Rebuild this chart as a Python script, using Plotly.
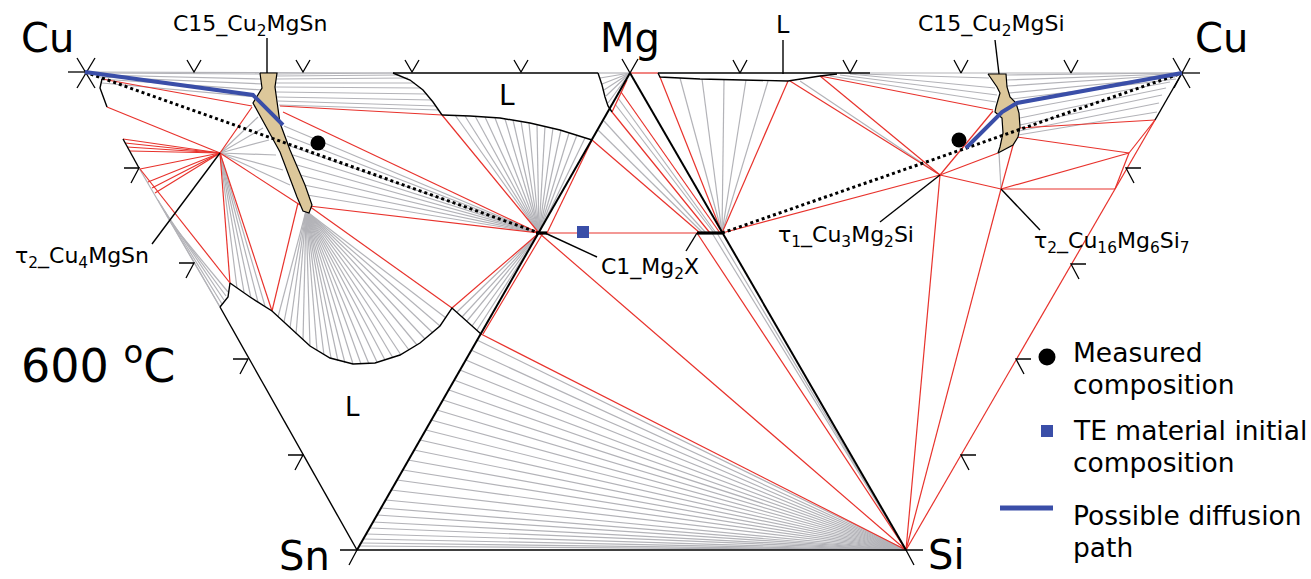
import plotly.graph_objects as go

# ---------------- diagram coordinates (x to the right, y downwards) ----------------
CU_L = (85, 72)
MG = (630, 73)
SN = (357, 550)
SI = (906, 550)
CU_R = (1182, 73)

MG2SN = (539, 233)
MG2SI = (722, 233)
TAU2_SN = (220, 153)
TAU1_SI = (940, 175)
TAU2_SI = (1001, 189)

# C15 single-phase regions (tan)
c15_sn_x = [260, 277, 275, 280, 290, 305, 312, 309, 303, 297, 280, 265, 253, 262, 260]
c15_sn_y = [73, 73, 87, 123, 150, 185, 205, 213, 211, 197, 152, 125, 103, 88, 73]
c15_si_x = [988, 1006, 1007, 1010, 1016, 1019, 1020, 1018, 1013, 998, 1000, 1003, 1002, 995, 996, 1000, 997, 988]
c15_si_y = [74, 74, 87, 97, 103, 113, 127, 137, 145, 153, 147, 133, 118, 112, 107, 93, 87, 74]

# black phase boundaries / edges (polylines)
black_lines = [
    [(393, 73), (598, 73)],
    [(393, 73), (410, 80), (423, 90), (433, 102), (442, 115)],
    [(442, 115), (470, 116), (500, 118), (530, 123), (560, 130), (592, 140)],
    [(598, 73), (602, 85), (605, 97), (608, 106), (612, 112)],
    [(220, 307), SN],
    [(230, 283), (228, 297), (220, 307)],
    [(230, 283), (250, 297), (272, 311), (290, 328), (310, 346), (330, 358), (353, 364),
     (375, 363), (400, 355), (420, 343), (440, 326), (452, 308), (481, 334)],
    [(102, 79), (100, 88), (107, 107)],
    [(123, 139), (139, 168)],
    [(658, 73), (870, 73)],
    [(658, 73), (660, 77), (700, 79), (740, 80), (788, 81), (820, 76), (837, 74)],
    [(1155, 120), (1182, 73)],
    [SN, SI],
    # leader lines
    [(267, 38), (267, 73)],
    [(995, 40), (999, 74)],
    [(783, 40), (783, 74)],
    [(152, 244), TAU2_SN],
    [(545, 233), (597, 257)],
    [(697, 233), (686, 251)],
    [(880, 222), TAU1_SI],
    [TAU2_SI, (1040, 230)],
]
thick_edges = [[SN, MG], [MG, SI]]
mg2x_solubility = [[(536, 233), (547, 233)], [(697, 233), MG2SI]]

# axis ticks (20 at.% marks) and vertex marks
ticks = [
    [(187, 60), (194, 72), (201, 60)], [(296, 60), (303, 72), (310, 60)],
    [(405, 60), (412, 72), (419, 60)], [(514, 60), (521, 72), (528, 60)],
    [(733, 60), (740, 73), (747, 60)], [(843, 60), (850, 73), (857, 60)],
    [(954, 60), (961, 73), (968, 60)], [(1064, 60), (1071, 73), (1078, 60)],
    [(124, 168), (139, 168), (131, 183)], [(179, 263), (194, 263), (186, 278)],
    [(233, 359), (248, 359), (240, 374)], [(288, 455), (303, 455), (295, 470)],
    [(1141, 168), (1126, 168), (1134, 183)], [(1086, 264), (1071, 264), (1079, 279)],
    [(1031, 359), (1016, 359), (1024, 374)], [(976, 455), (961, 455), (969, 470)],
    [(340, 550), (357, 550), (349, 565)], [(923, 550), (906, 550), (914, 565)],
    [(622, 59), (630, 73), (638, 59)],
    [(68, 72), (85, 72)], [(77, 58), (95, 88)], [(95, 58), (77, 88)],
    [(1182, 73), (1200, 73)], [(1173, 58), (1190, 88)], [(1190, 58), (1174, 88)],
]

# grey tie-lines (two-phase regions)
grey_lines = [
    [(85, 72), (393, 73)], [(598, 73), MG], [(870, 73), CU_R], [(139, 168), (220, 307)],
    [(95, 73), (260, 74)], [(97, 75), (262, 79)], [(99, 77), (264, 84)], [(101, 79), (262, 90)],
    [(102, 83), (257, 97)],
    [(277, 74), (393, 73)], [(277, 76), (400, 75)], [(276, 79), (408, 78)], [(275, 83), (415, 83)],
    [(275, 87), (421, 88)], [(276, 92), (427, 94)], [(277, 97), (432, 100)], [(278, 101), (436, 106)],
    [(279, 105), (439, 110)],
    [(158, 200), (220, 307)], [(161, 205), (222, 304)], [(164, 210), (224, 300)],
    [(167, 216), (226, 296)], [(171, 223), (228, 292)],
    [(712, 233), SI], [(717, 233), SI],
    [(598, 130), (703, 233)], [(604, 121), (706, 233)], [(615, 104), (714, 233)], [(618, 98), (716, 233)],
    [(860, 74), (989, 78)], [(850, 74), (995, 88)], [(840, 75), (997, 95)], [(830, 76), (996, 102)],
    [(800, 81), TAU1_SI],
    [(1006, 75), (1172, 73)], [(1006, 80), (1172, 74)], [(1007, 86), (1174, 75)], [(1009, 93), (1175, 77)],
    [(1012, 99), (1176, 79)], [(1018, 110), (1170, 82)], [(1020, 118), (1166, 88)],
    [(1020, 125), (1162, 95)], [(1019, 131), (1159, 103)], [(1018, 135), (1157, 112)],
    [(999, 153), TAU2_SI],
]
# fans of tie-lines: (common end, list of other ends)
grey_fans = [
    (MG2SN, [(284, 126), (287, 136), (290, 146), (293, 155), (297, 165), (300, 175), (304, 185), (307, 195)]),
    (MG2SN, [(455, 115), (465, 116), (475, 116), (485, 117), (495, 118), (505, 119), (513, 120), (521, 121),
             (529, 123), (537, 124), (545, 126), (553, 128), (561, 130), (569, 133), (577, 135), (585, 138)]),
    (MG2SN, [(457, 312), (462, 317), (467, 321), (472, 326), (477, 330)]),
    ((306, 211), [(278, 317), (284, 322), (290, 328), (296, 334), (303, 340), (310, 346), (317, 350), (324, 355),
                  (331, 358), (338, 361), (345, 363), (353, 364), (361, 364), (369, 364), (377, 362), (385, 360),
                  (393, 358), (401, 355), (409, 350), (417, 345), (425, 339), (433, 333), (440, 326), (446, 318)]),
    (TAU2_SN, [(237, 288), (244, 292), (251, 298), (258, 302), (265, 306)]),
    (TAU2_SN, [(258, 117), (263, 128), (269, 140), (276, 155), (283, 170), (290, 185)]),
    (MG, [(600, 78), (602, 84), (604, 90), (606, 96), (608, 103)]),
    (SI, [(477, 340), (471, 350), (466, 360), (460, 370), (454, 380), (449, 390), (443, 400), (437, 410),
          (431, 420), (426, 430), (420, 440), (414, 450), (408, 460), (403, 470), (397, 480), (391, 490),
          (386, 500), (381, 508), (377, 515), (373, 522), (370, 528), (366, 534), (363, 539), (361, 543),
          (359, 546)]),
    (MG2SI, [(680, 78), (702, 79), (724, 80), (746, 80), (768, 81)]),
]

# red lines (three-phase triangles)
red_lines = [
    [(102, 79), (252, 106)], [(107, 107), TAU2_SN], [TAU2_SN, (252, 107)], [TAU2_SN, (300, 205)],
    [(140, 169), (230, 283)], [TAU2_SN, (230, 283)], [TAU2_SN, (272, 311)], [(298, 203), (272, 311)],
    [(280, 106), (442, 115)], [(283, 112), MG2SN], [(442, 115), MG2SN], [(309, 206), MG2SN],
    [(309, 206), (452, 308)], [MG2SN, (452, 308)], [(483, 334), (543, 233)],
    [(481, 334), SI], [MG2SN, SI], [(697, 233), SI], [MG2SN, (697, 233)],
    [(592, 140), (547, 233)], [(592, 140), (700, 233)], [(612, 112), (710, 233)], [(621, 92), (720, 233)],
    [(627, 80), (612, 112)],
    [MG, (658, 73)], [(660, 77), MG2SI], [(788, 81), MG2SI], [(790, 81), TAU1_SI], [(820, 76), TAU1_SI],
    [(820, 76), (993, 110)], [MG2SI, TAU1_SI], [TAU1_SI, (998, 153)], [TAU1_SI, TAU2_SI],
    [TAU1_SI, (993, 111)], [TAU1_SI, SI], [TAU2_SI, SI], [TAU2_SI, (1115, 189)], [TAU2_SI, (1129, 153)],
    [TAU2_SI, (1015, 138)], [(1017, 137), (1129, 153)], [(1019, 128), (1155, 120)],
    [(1129, 153), (1155, 120)], [(1129, 153), (1115, 189)], [(1155, 120), SI],
]
red_fan_tau2 = [(123, 139), (125, 143), (127, 147), (130, 151), (140, 169), (148, 182), (152, 188), (155, 193)]

# experimental data
diffusion_path_sn = [CU_L, (253, 95), (283, 125)]
diffusion_path_si = [CU_R, (1017, 103), (1002, 112), (966, 148)]
dotted_sn = [CU_L, MG2SN]
dotted_si = [MG2SI, CU_R]
measured_x = [318, 959]
measured_y = [143, 140]
te_initial_x = [583]
te_initial_y = [232]

GREY = "#b3b3b8"
RED = "#e8322c"
BLUE = "#3a4ea8"
TAN = "#dcc79a"
FONT = "DejaVu Sans"


def segs(lines):
    xs, ys = [], []
    for ln in lines:
        for p in ln:
            xs.append(p[0]); ys.append(p[1])
        xs.append(None); ys.append(None)
    return xs, ys


def fan_lines(fans):
    out = []
    for c, ends in fans:
        for e in ends:
            out.append([c, e])
    return out


fig = go.Figure()


def add_lines(lines, color, width, dash="solid"):
    xs, ys = segs(lines)
    fig.add_trace(go.Scatter(x=xs, y=ys, mode="lines", line=dict(color=color, width=width, dash=dash),
                             hoverinfo="skip", showlegend=False))


add_lines(grey_lines + fan_lines(grey_fans), GREY, 1.2)
add_lines(red_lines + fan_lines([(TAU2_SN, red_fan_tau2)]), RED, 1.2)

for px, py in [(c15_sn_x, c15_sn_y), (c15_si_x, c15_si_y)]:
    fig.add_trace(go.Scatter(x=px, y=py, mode="lines", fill="toself", fillcolor=TAN,
                             line=dict(color="black", width=1.2), hoverinfo="skip", showlegend=False))

add_lines(black_lines, "black", 1.4)
add_lines(thick_edges, "black", 2.0)
add_lines(mg2x_solubility, "black", 3.2)
add_lines(ticks, "black", 1.3)
add_lines([dotted_sn, dotted_si], "black", 3, dash="dot")
add_lines([diffusion_path_sn, diffusion_path_si], BLUE, 4)

fig.add_trace(go.Scatter(x=measured_x, y=measured_y, mode="markers",
                         marker=dict(color="black", size=15), hoverinfo="skip", showlegend=False))
fig.add_trace(go.Scatter(x=te_initial_x, y=te_initial_y, mode="markers",
                         marker=dict(color=BLUE, size=12, symbol="square"), hoverinfo="skip", showlegend=False))

# legend (drawn)
fig.add_trace(go.Scatter(x=[1047], y=[357], mode="markers", marker=dict(color="black", size=17),
                         hoverinfo="skip", showlegend=False))
fig.add_trace(go.Scatter(x=[1047], y=[431], mode="markers", marker=dict(color=BLUE, size=12, symbol="square"),
                         hoverinfo="skip", showlegend=False))
add_lines([[(1000, 508), (1053, 508)]], BLUE, 5)

labels = [
    ("Cu", 47, 38, 40, "center"), ("Mg", 630, 38, 40, "center"), ("Cu", 1221, 38, 40, "center"),
    ("Sn", 304, 556, 40, "center"), ("Si", 946, 555, 40, "center"),
    ("600 <sup>o</sup>C", 98, 363, 46, "center"),
    ("C15_Cu<sub>2</sub>MgSn", 250, 25, 22, "center"), ("C15_Cu<sub>2</sub>MgSi", 991, 25, 22, "center"),
    ("τ<sub>2</sub>_Cu<sub>4</sub>MgSn", 82, 257, 22, "center"), ("C1_Mg<sub>2</sub>X", 650, 268, 22, "center"),
    ("τ<sub>1</sub>_Cu<sub>3</sub>Mg<sub>2</sub>Si", 846, 236, 22, "center"),
    ("τ<sub>2</sub>_Cu<sub>16</sub>Mg<sub>6</sub>Si<sub>7</sub>", 1112, 242, 22, "center"),
    ("L", 507, 95, 28, "center"), ("L", 352, 407, 26, "center"), ("L", 783, 25, 24, "center"),
    ("Measured", 1071, 352, 26.5, "left"), ("composition", 1071, 384, 26.5, "left"),
    ("TE material initial", 1071, 430, 26.5, "left"), ("composition", 1071, 462, 26.5, "left"),
    ("Possible diffusion", 1071, 515, 26.5, "left"), ("path", 1071, 547, 26.5, "left"),
]
for txt, x, y, size, anchor in labels:
    fig.add_annotation(x=x, y=y, xref="x", yref="y", text=txt, showarrow=False, xanchor=anchor,
                       yanchor="middle", align="left", font=dict(family=FONT, size=size, color="black"))

fig.update_layout(
    width=1311, height=579, margin=dict(l=0, r=0, t=0, b=0),
    paper_bgcolor="white", plot_bgcolor="white",
    xaxis=dict(range=[0, 1311], visible=False, showgrid=False, zeroline=False),
    yaxis=dict(range=[579, 0], visible=False, showgrid=False, zeroline=False),
)

fig.write_html("out.html", config={"displayModeBar": False},
               post_script="document.body.style.margin='0';")
